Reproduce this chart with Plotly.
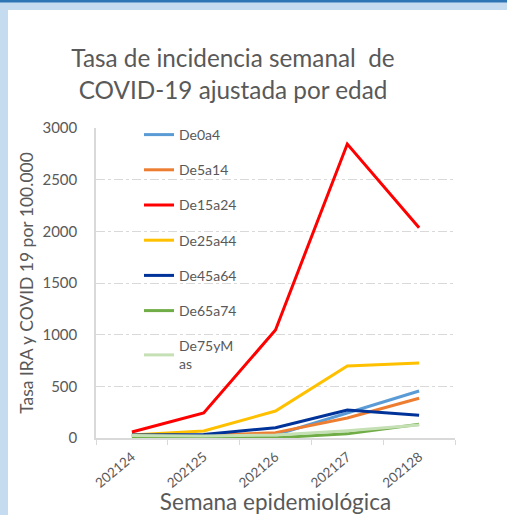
import plotly.graph_objects as go

weeks = ["202124", "202125", "202126", "202127", "202128"]
series_names = ["De0a4", "De5a14", "De15a24", "De25a44", "De45a64", "De65a74", "De75yM<br>as"]
de0a4 = [22, 22, 30, 245, 455]
de5a14 = [20, 25, 52, 193, 384]
de15a24 = [58, 242, 1045, 2845, 2035]
de25a44 = [30, 68, 261, 697, 726]
de45a64 = [30, 35, 100, 271, 220]
de65a74 = [5, 10, 3, 40, 132]
de75ymas = [25, 20, 30, 70, 125]
values = [de0a4, de5a14, de15a24, de25a44, de45a64, de65a74, de75ymas]
colors = ["#5B9BD5", "#ED7D31", "#FF0000", "#FFC000", "#003399", "#70AD47", "#C5E0B4"]

W, H = 507, 515
L, R, T, B = 96, 52, 128, 77
pw, ph = W - L - R, H - T - B

def px_x(x):
    return (x - L) / pw

def px_y(y):
    return 1 - (y - T) / ph

fig = go.Figure()
for i, (n, v, c) in enumerate(zip(series_names, values, colors)):
    fig.add_trace(go.Scatter(x=weeks, y=v, name=n, mode="lines",
                             line=dict(color=c, width=3), legendgroup=f"g{i}"))

gray = "#595959"
font = "Lato, Open Sans, sans-serif"

fig.update_layout(
    width=W, height=H,
    margin=dict(l=L, r=R, t=T, b=B),
    paper_bgcolor="#C5DCF0",
    plot_bgcolor="white",
    font=dict(family=font, color=gray),
    title=dict(text="Tasa de incidencia semanal  de<br>COVID-19 ajustada por edad",
               x=233 / W, xanchor="center", y=1 - 67 / H, yanchor="top",
               font=dict(size=24.3, color=gray, family=font)),
    legend=dict(x=px_x(139), y=px_y(119), xanchor="left", yanchor="top",
                bgcolor="rgba(0,0,0,0)", font=dict(size=14, color=gray),
                tracegroupgap=14, maxheight=400),
    showlegend=True,
)

fig.update_xaxes(
    type="category", range=[-0.5, 4.5], tickson="boundaries", automargin=False,
    ticks="outside", ticklen=5, tickcolor="#D9D9D9",
    showline=True, linecolor="#D9D9D9", linewidth=1.5,
    showgrid=False, tickangle=-40, tickfont=dict(size=13.5, color=gray),
    ticklabelstandoff=4,
    title=dict(text="Semana epidemiológica", font=dict(size=22.5, color=gray), standoff=10),
)
fig.update_yaxes(
    range=[0, 3000], dtick=500, tick0=0, automargin=False,
    showline=True, linecolor="#D9D9D9", linewidth=1.5,
    showgrid=True, gridcolor="#D9D9D9", griddash="dashdot", gridwidth=1,
    zeroline=False, tickfont=dict(size=15, color=gray), ticklabelstandoff=14,
    title=dict(text="Tasa IRA y COVID 19 por 100.000", font=dict(size=17.5, color=gray), standoff=4),
)

# white panel and top dark band
fig.add_shape(type="rect", xref="paper", yref="paper", layer="below",
              x0=px_x(8), x1=px_x(W + 5), y0=px_y(H + 5), y1=px_y(10),
              fillcolor="white", line_width=0)
fig.add_shape(type="rect", xref="paper", yref="paper", layer="below",
              x0=px_x(-5), x1=px_x(W + 5), y0=px_y(2.5), y1=px_y(-5),
              fillcolor="#2E75B6", line_width=0)

fig.write_html("out.html", config={"displayModeBar": False},
               post_script="document.body.style.margin='0';")
